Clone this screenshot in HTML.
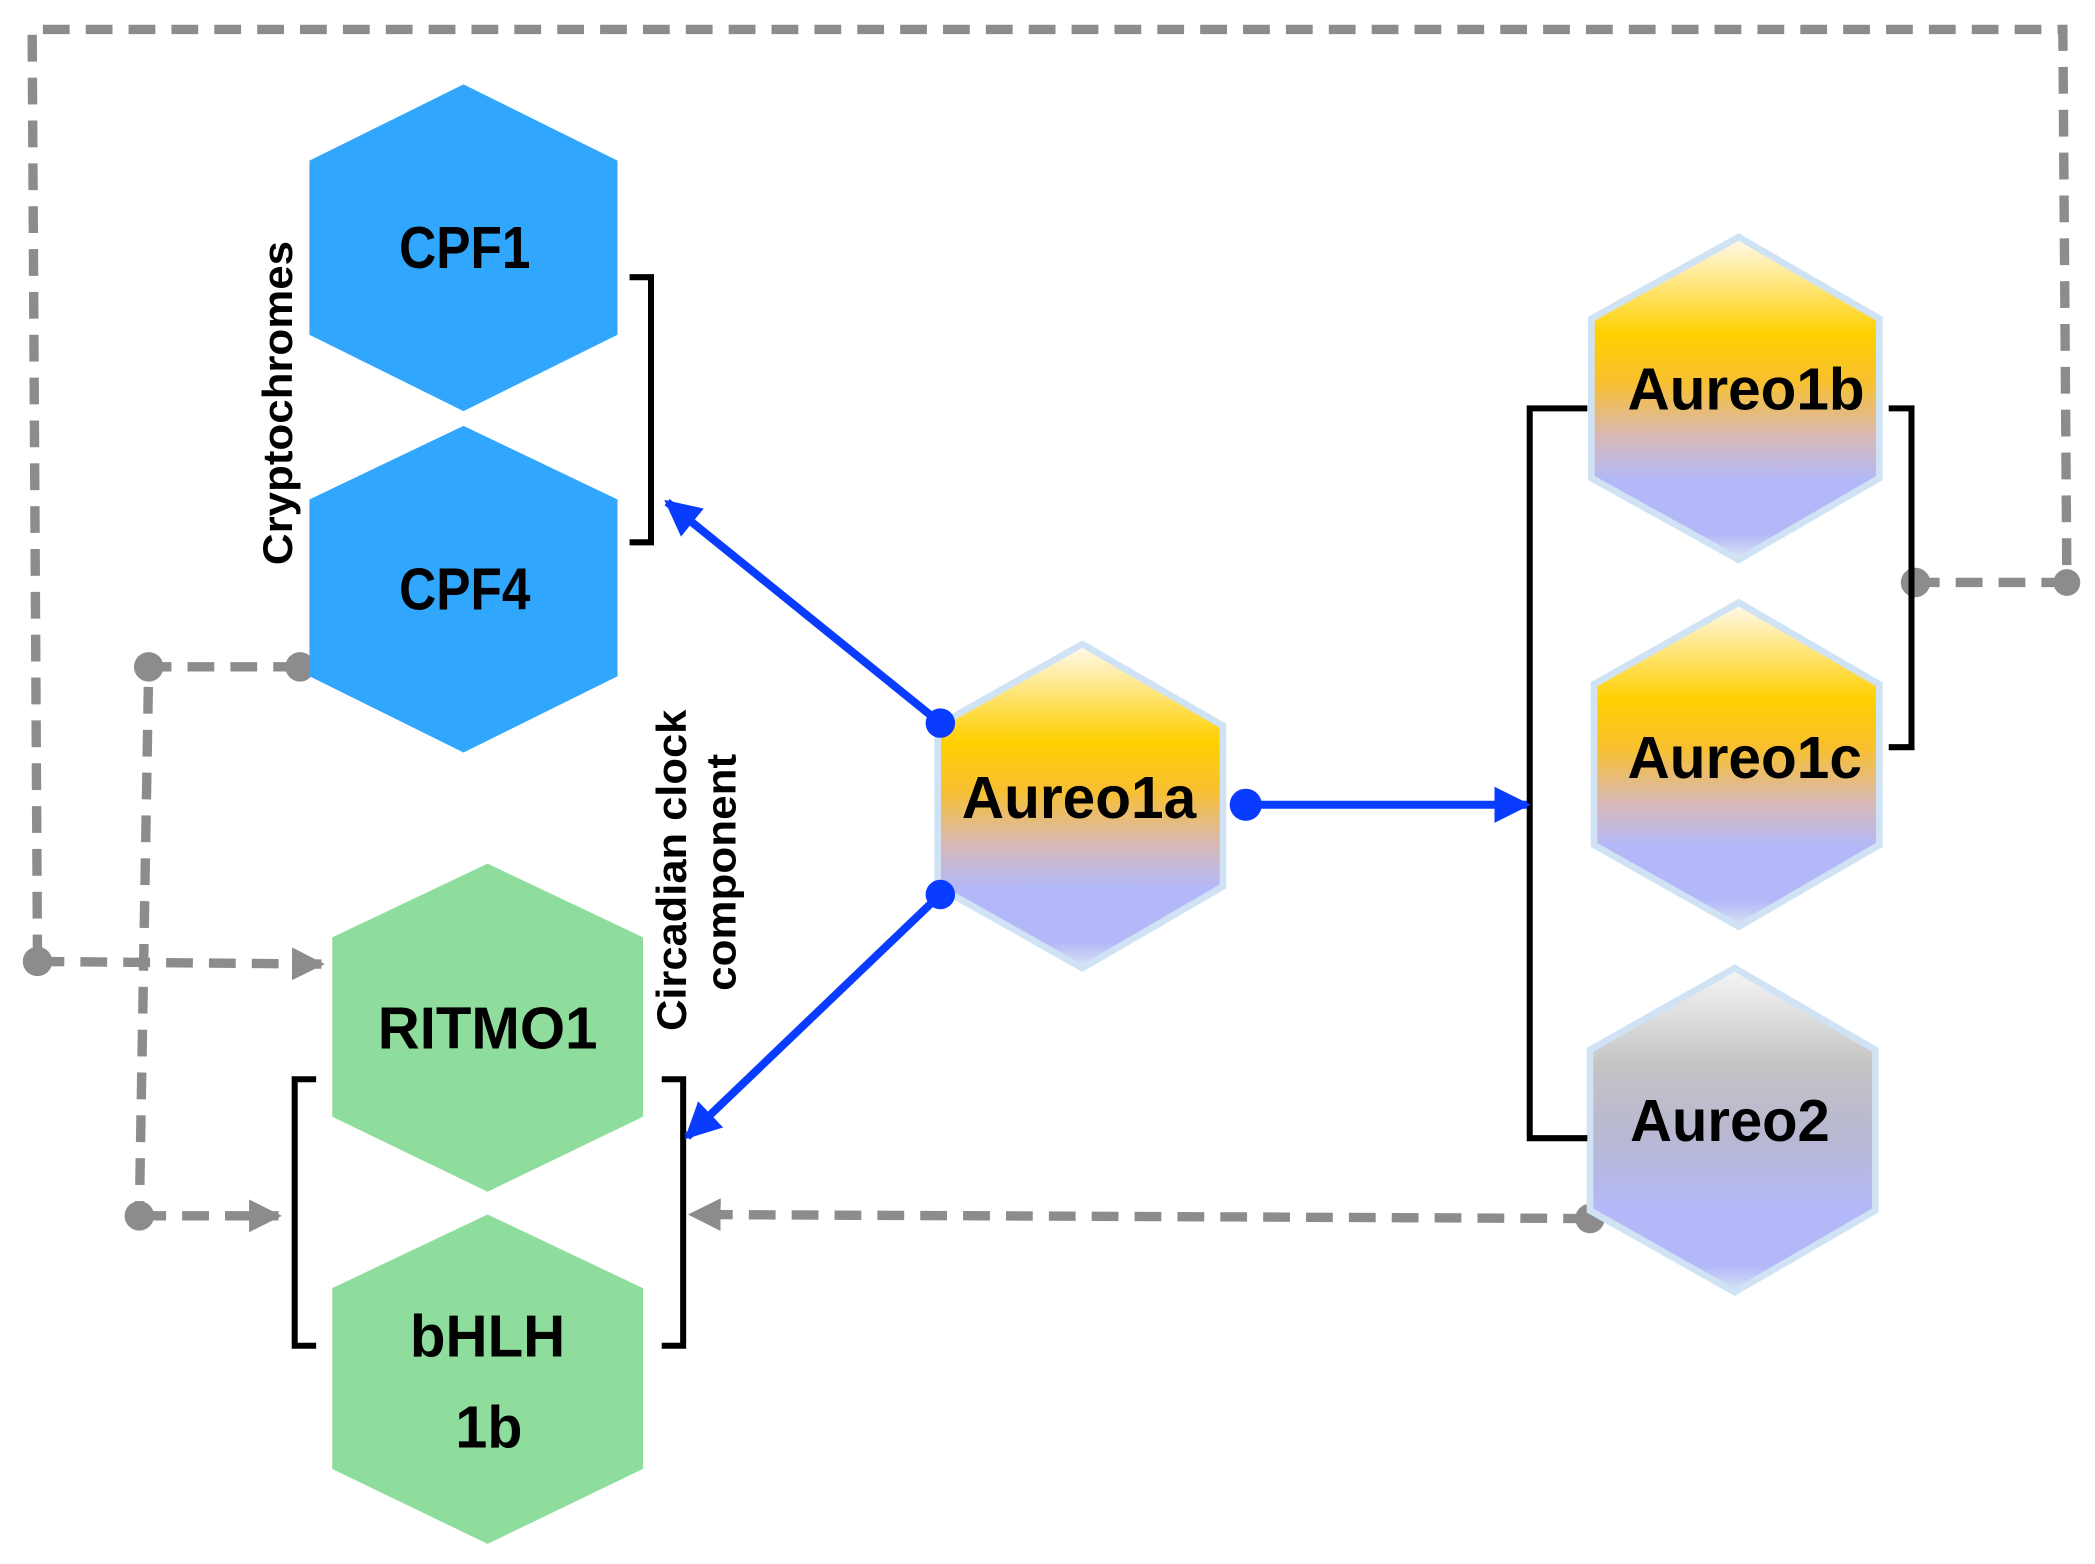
<!DOCTYPE html>
<html><head><meta charset="utf-8"><style>
html,body{margin:0;padding:0;background:#fff;}
svg{display:block;}
text{font-family:"Liberation Sans",sans-serif;font-weight:bold;fill:#000;}
</style></head><body>
<svg width="2095" height="1564" viewBox="0 0 1564 1168" preserveAspectRatio="none" xmlns="http://www.w3.org/2000/svg">
<defs>
<linearGradient id="gy" x1="0" y1="0" x2="0" y2="1">
<stop offset="0" stop-color="#fffaf0"/><stop offset="0.3" stop-color="#ffd000"/><stop offset="0.45" stop-color="#f8c030"/><stop offset="0.62" stop-color="#d8b8b8"/><stop offset="0.75" stop-color="#b4b8f8"/><stop offset="0.92" stop-color="#b4b8f8"/><stop offset="1" stop-color="#d8e4f4"/>
</linearGradient>
<linearGradient id="gg" x1="0" y1="0" x2="0" y2="1">
<stop offset="0" stop-color="#f6f6f6"/><stop offset="0.3" stop-color="#c4c4c4"/><stop offset="0.5" stop-color="#b8b8d0"/><stop offset="0.75" stop-color="#b4b8f8"/><stop offset="0.92" stop-color="#b4b8f8"/><stop offset="1" stop-color="#d8e4f4"/>
</linearGradient>
<marker id="ab" viewBox="0 0 10 10" refX="9" refY="5" markerWidth="4.5" markerHeight="4.5" orient="auto"><path d="M0,0L10,5L0,10z" fill="#0a3cff"/></marker>
<marker id="ag" viewBox="0 0 10 10" refX="9" refY="5" markerWidth="3.5" markerHeight="3.5" orient="auto"><path d="M0,0L10,5L0,10z" fill="#8c8c8c"/></marker>
</defs>

<g fill="none" stroke="#8c8c8c" stroke-width="7" stroke-dasharray="20,12">
<path d="M28,718 L24,22 L1540,22 L1543,435 L1430,435"/>
<path d="M28,718 L240,720" marker-end="url(#ag)"/>
<path d="M224,498 L111,498 L104,908"/>
<path d="M104,908 L208,908" marker-end="url(#ag)"/>
<path d="M1187,910 L516,907" marker-end="url(#ag)"/>
</g>
<g fill="#8c8c8c">
<circle cx="28" cy="718" r="11"/><circle cx="224" cy="498" r="11"/><circle cx="111" cy="498" r="11"/>
<circle cx="104" cy="908" r="11"/><circle cx="1187" cy="910" r="11"/><circle cx="1430" cy="435" r="11"/><circle cx="1543" cy="435" r="10"/>
</g>

<polygon points="346,63 461,120 461,250 346,307 231,250 231,120" fill="#30a6fd"/>
<polygon points="346,318 461,373 461,505 346,562 231,505 231,373" fill="#30a6fd"/>
<polygon points="364,645 480,700 480,834 364,890 248,834 248,700" fill="#8fdd9c"/>
<polygon points="364,907 480,962 480,1097 364,1153 248,1097 248,962" fill="#8fdd9c"/>
<polygon points="808,481 913,542 913,662 808,723 700,662 700,542" fill="url(#gy)" stroke="#cfe3f5" stroke-width="5"/>
<polygon points="1298,177 1403,238 1403,357 1298,418 1188,357 1188,238" fill="url(#gy)" stroke="#cfe3f5" stroke-width="5"/>
<polygon points="1298,450 1403,511 1403,631 1298,692 1190,631 1190,511" fill="url(#gy)" stroke="#cfe3f5" stroke-width="5"/>
<polygon points="1295,723 1400,784 1400,904 1295,965 1187,904 1187,784" fill="url(#gg)" stroke="#cfe3f5" stroke-width="5"/>

<g fill="none" stroke="#000" stroke-width="4.5">
<path d="M470,207 L486,207 L486,405 L470,405"/>
<path d="M236,806 L220,806 L220,1005 L236,1005"/>
<path d="M494,806 L510,806 L510,1005 L494,1005"/>
<path d="M1185,305 L1142,305 L1142,850 L1185,850"/>
<path d="M1410,305 L1427,305 L1427,558 L1410,558"/>
</g>

<g stroke="#0a3cff" stroke-width="6" fill="none">
<path d="M702,540 L498,375" marker-end="url(#ab)"/>
<path d="M702,668 L513,849" marker-end="url(#ab)"/>
<path d="M930,601 L1140,601" marker-end="url(#ab)"/>
</g>
<g fill="#0a3cff"><circle cx="702" cy="540" r="11"/><circle cx="702" cy="668" r="11"/><circle cx="930" cy="601" r="12"/></g>

<g font-size="44" lengthAdjust="spacingAndGlyphs">
<text x="298" y="200" textLength="98" lengthAdjust="spacingAndGlyphs">CPF1</text>
<text x="298" y="455" textLength="98" lengthAdjust="spacingAndGlyphs">CPF4</text>
<text x="282" y="783" textLength="164" lengthAdjust="spacingAndGlyphs">RITMO1</text>
<text x="306" y="1013" textLength="116" lengthAdjust="spacingAndGlyphs">bHLH</text>
<text x="340" y="1081" textLength="50" lengthAdjust="spacingAndGlyphs">1b</text>
<text x="718" y="611" textLength="175" lengthAdjust="spacingAndGlyphs">Aureo1a</text>
<text x="1215" y="306" textLength="177" lengthAdjust="spacingAndGlyphs">Aureo1b</text>
<text x="1215" y="581" textLength="175" lengthAdjust="spacingAndGlyphs">Aureo1c</text>
<text x="1217" y="852" textLength="149" lengthAdjust="spacingAndGlyphs">Aureo2</text>
</g>
<g font-size="31">
<text transform="translate(218,422) rotate(-90)" textLength="242" lengthAdjust="spacingAndGlyphs">Cryptochromes</text>
<text transform="translate(512,770) rotate(-90)" textLength="240" lengthAdjust="spacingAndGlyphs">Circadian clock</text>
<text transform="translate(549,740) rotate(-90)" textLength="177" lengthAdjust="spacingAndGlyphs">component</text>
</g>
</svg>
</body></html>
